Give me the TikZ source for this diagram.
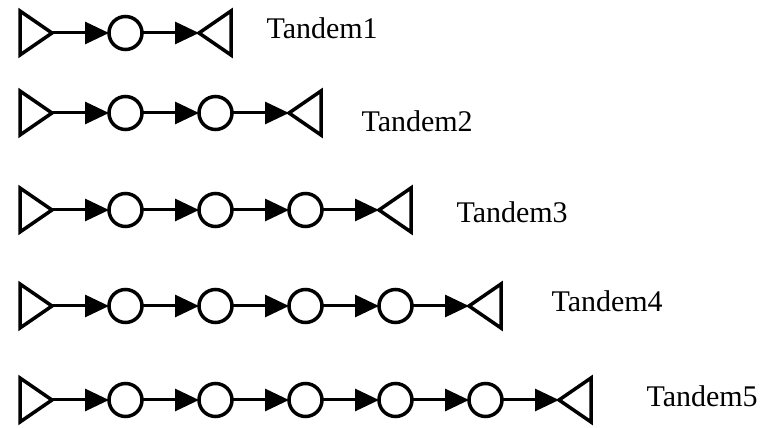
\documentclass[tikz,border=0pt]{standalone}
\usepackage{fontspec}
\setmainfont{Liberation Serif}
\usetikzlibrary{arrows.meta,shapes.geometric}
\usetikzlibrary{positioning}
\tikzset{
  queue/.style  = {circle,draw,line width=3.5pt,minimum size=33pt,inner sep=0pt,outer sep=0pt},
  source/.style = {isosceles triangle,isosceles triangle stretches,draw,line width=3.5pt,
                   minimum height=32pt,minimum width=44pt,inner sep=0pt,outer sep=0pt},
  sink/.style   = {source,shape border rotate=180},
  tandemname/.style = {anchor=base west,inner sep=0pt,font=\fontsize{30}{36}\selectfont}
}

\begin{document}
\begin{tikzpicture}[->,>={Triangle[length=24pt,width=22pt]},line width=3pt,node distance=57pt,x=1pt,y=1pt]
\useasboundingbox (0,0) rectangle (769,428);

% one queue
\node[source, anchor=east] (S1) at (52,395) {};
\node[queue] (Q11) [right=of S1]  {};
\node[sink]  (T1)  [right=of Q11] {};
\node[tandemname] (L1) at (265,389) {Tandem1};

% two queues
\node[source, anchor=east] (S2) at (52,315) {};
\node[queue] (Q21) [right=of S2]  {};
\node[queue] (Q22) [right=of Q21] {};
\node[sink]  (T2)  [right=of Q22] {};
\node[tandemname] (L2) at (360,296) {Tandem2};

% three queues
\node[source, anchor=east] (S3) at (52,218) {};
\node[queue] (Q31) [right=of S3]  {};
\node[queue] (Q32) [right=of Q31] {};
\node[queue] (Q33) [right=of Q32] {};
\node[sink]  (T3)  [right=of Q33] {};
\node[tandemname] (L3) at (455,205) {Tandem3};

% four queues
\node[source, anchor=east] (S4) at (52,122) {};
\node[queue] (Q41) [right=of S4]  {};
\node[queue] (Q42) [right=of Q41] {};
\node[queue] (Q43) [right=of Q42] {};
\node[queue] (Q44) [right=of Q43] {};
\node[sink]  (T4)  [right=of Q44] {};
\node[tandemname] (L4) at (550,116) {Tandem4};

% five queues
\node[source, anchor=east] (S5) at (52,28) {};
\node[queue] (Q51) [right=of S5]  {};
\node[queue] (Q52) [right=of Q51] {};
\node[queue] (Q53) [right=of Q52] {};
\node[queue] (Q54) [right=of Q53] {};
\node[queue] (Q55) [right=of Q54] {};
\node[sink]  (T5)  [right=of Q55] {};
\node[tandemname] (L5) at (645,21) {Tandem5};

\path
	(S1) edge (Q11)
	(Q11) edge (T1);

\path
	(S2) edge (Q21)
	(Q21) edge (Q22)
	(Q22) edge (T2);

\path
	(S3) edge (Q31)
	(Q31) edge (Q32)
	(Q32) edge (Q33)
	(Q33) edge (T3);

\path
	(S4) edge (Q41)
	(Q41) edge (Q42)
	(Q42) edge (Q43)
	(Q43) edge (Q44)
	(Q44) edge (T4);

\path
	(S5) edge (Q51)
	(Q51) edge (Q52)
	(Q52) edge (Q53)
	(Q53) edge (Q54)
	(Q54) edge (Q55)
	(Q55) edge (T5);

\end{tikzpicture}
\end{document}
